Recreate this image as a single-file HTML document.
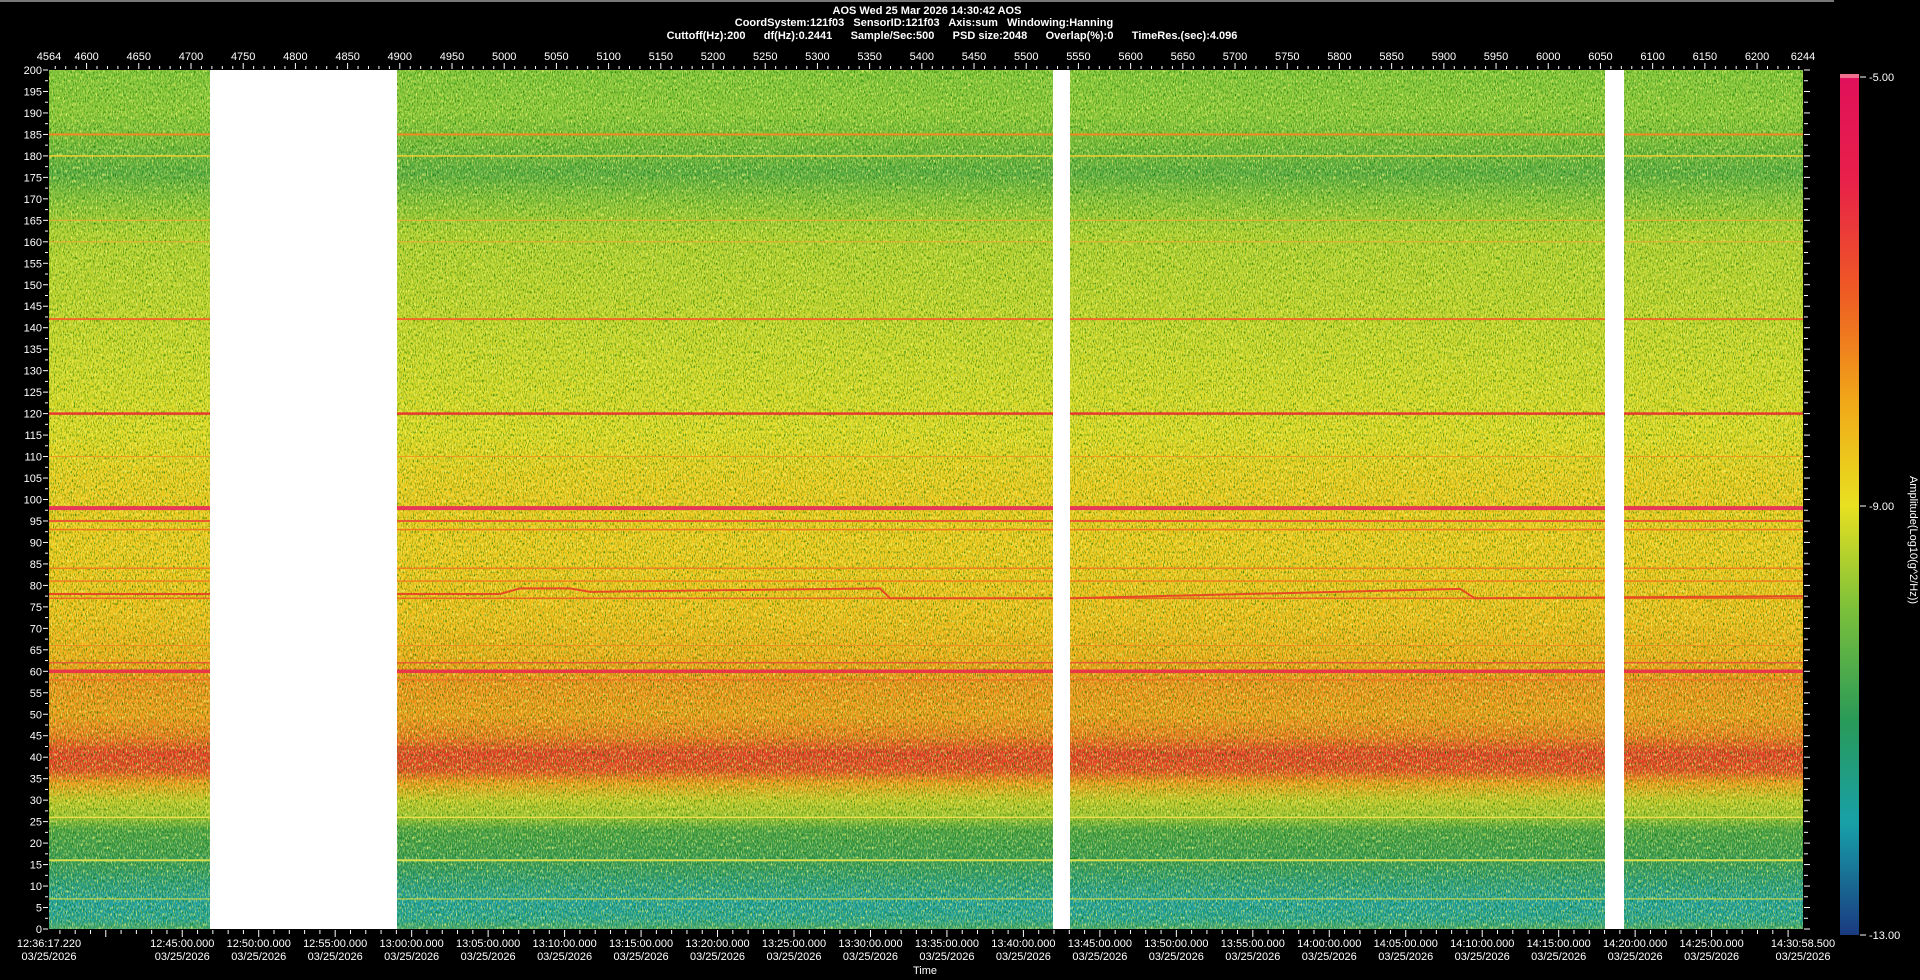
<!DOCTYPE html>
<html><head><meta charset="utf-8"><style>
html,body{margin:0;padding:0;background:#000;width:1920px;height:980px;overflow:hidden}
svg{display:block}
text{font-family:"Liberation Sans",sans-serif;fill:#fff;font-size:11px}
</style></head><body>
<svg id="s" width="1920" height="980" xmlns="http://www.w3.org/2000/svg">
<defs>
<linearGradient id="g" gradientUnits="userSpaceOnUse" x1="0" y1="70" x2="0" y2="929"></linearGradient>
<linearGradient id="cb" x1="0" y1="0" x2="0" y2="1">
<stop offset="0" stop-color="#e0105a"/><stop offset="0.12" stop-color="#e8204a"/><stop offset="0.25" stop-color="#ee5a24"/>
<stop offset="0.38" stop-color="#f0a818"/><stop offset="0.5" stop-color="#e8e020"/><stop offset="0.62" stop-color="#7cc03a"/>
<stop offset="0.75" stop-color="#2a9a58"/><stop offset="0.87" stop-color="#18a0a8"/><stop offset="1" stop-color="#1a3a80"/>
</linearGradient>
<filter id="nz" x="0" y="0" width="100%" height="100%">
<feTurbulence type="fractalNoise" baseFrequency="0.9 0.35" numOctaves="2" seed="3"/>
<feColorMatrix type="matrix" values="0 0 0 0 0  0 0 0 0 0.15  0 0 0 0 0  2.4 0 0 0 -1.2"/>
</filter>
<filter id="nz2" x="0" y="0" width="100%" height="100%">
<feTurbulence type="fractalNoise" baseFrequency="0.8 0.3" numOctaves="2" seed="11"/>
<feColorMatrix type="matrix" values="0 0 0 0 1  0 0 0 0 1  0 0 0 0 0.2  0 2.4 0 0 -1.2"/>
</filter>
</defs>
<line x1="0" y1="1" x2="1834" y2="1" stroke="#777" stroke-width="2"/>
<text x="927" y="14" text-anchor="middle" font-weight="bold">AOS  Wed 25 Mar 2026 14:30:42  AOS</text>
<text x="924" y="26" text-anchor="middle" font-weight="bold" xml:space="preserve">CoordSystem:121f03   SensorID:121f03   Axis:sum   Windowing:Hanning</text>
<text x="952" y="39" text-anchor="middle" font-weight="bold" xml:space="preserve">Cuttoff(Hz):200      df(Hz):0.2441      Sample/Sec:500      PSD size:2048      Overlap(%):0      TimeRes.(sec):4.096</text>
<g id="plot">
<rect x="49" y="70" width="1754" height="859" fill="url(#g)"/>
</g>
<rect x="49" y="70" width="1754" height="859" filter="url(#nz)"/>
<rect x="49" y="70" width="1754" height="859" filter="url(#nz2)"/>
<g id="lines"></g>
<rect x="210" y="70" width="187" height="859" fill="#fff"/>
<rect x="1053" y="70" width="17" height="859" fill="#fff"/>
<rect x="1605" y="70" width="19" height="859" fill="#fff"/>
<g id="ax"></g>
<rect x="1840" y="76" width="19" height="859" fill="url(#cb)"/>
<rect x="1840" y="74" width="19" height="4" fill="#f07090"/>
<line x1="1860" y1="77" x2="1866" y2="77" stroke="#fff"/>
<line x1="1860" y1="506" x2="1866" y2="506" stroke="#fff"/>
<line x1="1860" y1="935" x2="1866" y2="935" stroke="#fff"/>
<text x="1869" y="81">-5.00</text>
<text x="1869" y="510">-9.00</text>
<text x="1869" y="939">-13.00</text>
<text transform="translate(1910,540) rotate(90)" text-anchor="middle" font-size="10">Amplitude(Log10(g^2/Hz))</text>
<text x="925" y="974" text-anchor="middle" font-size="10">Time</text>
</svg>
<script>
var NS="http://www.w3.org/2000/svg",S=document.getElementById('s');
function el(t,a,p,txt){var e=document.createElementNS(NS,t);for(var k in a)e.setAttribute(k,a[k]);if(txt!=null)e.textContent=txt;(p||S).appendChild(e);return e;}
function Y(v){return 929-v*4.295;}
var stops=[[200,'#80c43a'],[190,'#8cc83a'],[183,'#74ba3a'],[176,'#5aac44'],[170,'#84c03a'],[162,'#b0d030'],[145,'#c2d42c'],[130,'#d2d828'],[115,'#e0d824'],[106,'#eccc1e'],[100,'#eec81e'],[88,'#f0c81c'],[72,'#f2bc1a'],[63,'#f0aa18'],[58,'#f08e1a'],[50,'#f09a1a'],[45,'#ee7a1e'],[41,'#e63e28'],[37,'#e84a26'],[34,'#f09a1c'],[30,'#c6c82a'],[26,'#9ec232'],[23,'#4aa048'],[16,'#3a9a58'],[11,'#2c9c80'],[6,'#22a0a4'],[2,'#28a296'],[0,'#4aa870']];
var g=document.getElementById('g');
stops.forEach(function(s){el('stop',{offset:(200-s[0])/200,'stop-color':s[1]},g);});
var L=document.getElementById('lines');
[[185,'#f08a20',2],[180,'#f0d030',1.5],[165,'#e8b030',1],[160,'#e8b030',1],[142,'#ee6a28',2],[120,'#e63a30',2.5],[110,'#ee9a20',1],[98,'#e83858',4],[95,'#e85a30',2],[93,'#ee7a20',1.5],[84,'#ee8020',1.5],[81,'#ee8020',1.5],[77,'#e86a20',1.5],[66,'#ee9020',1],[62,'#e85a30',1.5],[60,'#e83848',3.5],[58,'#ee6a28',1],[26,'#e8e048',1.5],[16,'#d8e050',2],[7,'#c8d848',1.2]].forEach(function(l){
el('rect',{x:49,y:Y(l[0])-l[2]/2,width:1754,height:l[2],fill:l[1]},L);});
el('path',{d:'M49 '+Y(78)+' L500 '+Y(78)+' L520 '+Y(79.3)+' L570 '+Y(79.3)+' L590 '+Y(78.5)+' L880 '+Y(79.3)+' L890 '+Y(77)+' L1070 '+Y(77)+' L1460 '+Y(79.2)+' L1475 '+Y(77)+' L1803 '+Y(77.5),stroke:'#e64a24','stroke-width':2,fill:'none'},L);
var A=document.getElementById('ax');
for(var v=0;v<=200;v+=2.5){var y=Y(v);var maj=(v%5==0);
el('line',{x1:maj?43:45,y1:y,x2:48,y2:y,stroke:'#fff'},A);
if(maj)el('text',{x:42,y:y+4,'text-anchor':'end'},A,String(v));
el('line',{x1:1804,y1:y,x2:maj?1810:1808,y2:y,stroke:'#fff'},A);}
function X(u){return 49+(u-4564)*1754/1680;}
el('text',{x:X(4564),y:60,'text-anchor':'middle'},A,'4564');
el('text',{x:X(6244),y:60,'text-anchor':'middle'},A,'6244');
for(var u=4570;u<=6240;u+=10){var x=X(u);var maj=(u%50==0);
el('line',{x1:x,y1:maj?63:66,x2:x,y2:69,stroke:'#fff'},A);
if(maj&&u>=4600)el('text',{x:x,y:60,'text-anchor':'middle'},A,String(u));}
var t0=12*3600+36*60+17.22,t1=14*3600+30*60+58.5;
function TX(t){return 49+(t-t0)*1754/(t1-t0);}
for(var t=12*3600+37*60;t<t1;t+=60){var x=TX(t);var maj=((t/60)%5==0);
el('line',{x1:x,y1:930,x2:x,y2:maj?937:934,stroke:'#fff'},A);}
function lab(x,s){el('text',{x:x,y:947,'text-anchor':'middle'},A,s);el('text',{x:x,y:960,'text-anchor':'middle'},A,'03/25/2026');}
lab(49,'12:36:17.220');lab(1803,'14:30:58.500');
for(var t=12*3600+45*60;t<=14*3600+25*60;t+=300){var h=Math.floor(t/3600),m=Math.floor(t%3600/60);
lab(TX(t),h+':'+(m<10?'0':'')+m+':00.000');}
</script>
</body></html>
